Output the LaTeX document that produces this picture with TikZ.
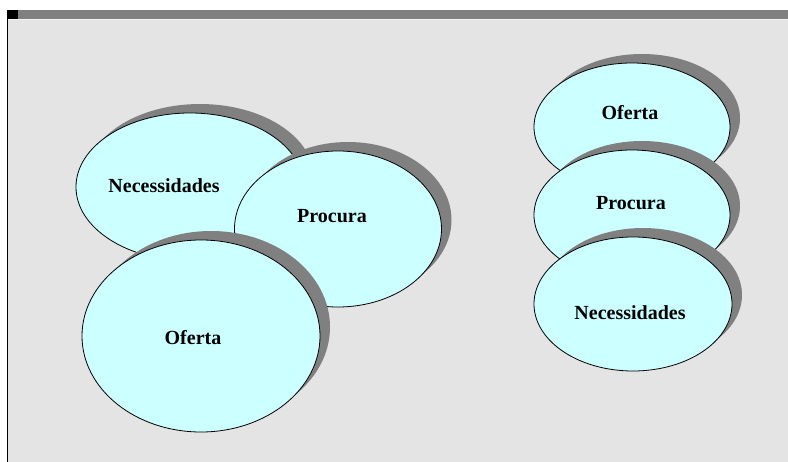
\documentclass[tikz,border=0pt]{standalone}
\usepackage{fontspec}
\setmainfont{Liberation Serif}
\usepackage{tikz}
\usetikzlibrary{shapes.geometric,shadows}
\definecolor{bubblefill}{HTML}{CCFFFF}
\definecolor{shadegray}{HTML}{808080}
\definecolor{panelgray}{HTML}{E4E4E4}
\definecolor{rimgray}{HTML}{F2F2F2}

\begin{document}
\begin{tikzpicture}[x=1pt,y=-1pt]
  \tikzstyle{bubble}=[ellipse, draw=black, line width=0.8pt, fill=bubblefill, inner sep=0pt,
    copy shadow={shadow xshift=10pt, shadow yshift=9pt, draw=none, fill=shadegray}];
  \tikzstyle{caption}=[font=\bfseries\fontsize{20}{23}\selectfont, inner sep=0pt];
  \useasboundingbox (0,0) rectangle (788,462);
  % frame
  \fill[panelgray] (7,19) rectangle (788,462);
  \fill[shadegray] (7,10) rectangle (788,19);
  \fill[black] (7,10) rectangle (18,19);
  \draw[rimgray, line width=1.2pt] (8,19.6) -- (788,19.6);
  \draw[black, line width=1.2pt] (7.6,19) -- (7.6,462);
  % left group, back to front
  \foreach \n/\x/\y/\w/\h in {nl/190/187/228/148, pl/338/229/207/156, ol/201/336/238/192}{
    \node[bubble, minimum width=\w, minimum height=\h] (\n) at (\x,\y) {};
  }
  % right group, back to front
  \foreach \n/\x/\y/\w/\h in {or/632/127/196/128, pr/632/215/196/130, nr/633/304/198/134}{
    \node[bubble, minimum width=\w, minimum height=\h] (\n) at (\x,\y) {};
  }
  % captions
  \foreach \n/\x/\y/\t in {nl/164/186/Necessidades, pl/332/216/Procura, ol/193/338/Oferta,
                           or/630/113/Oferta, pr/631/203/Procura, nr/630/313/Necessidades}{
    \node[caption] (t\n) at (\x,\y) {\t};
  }
\end{tikzpicture}
\end{document}
